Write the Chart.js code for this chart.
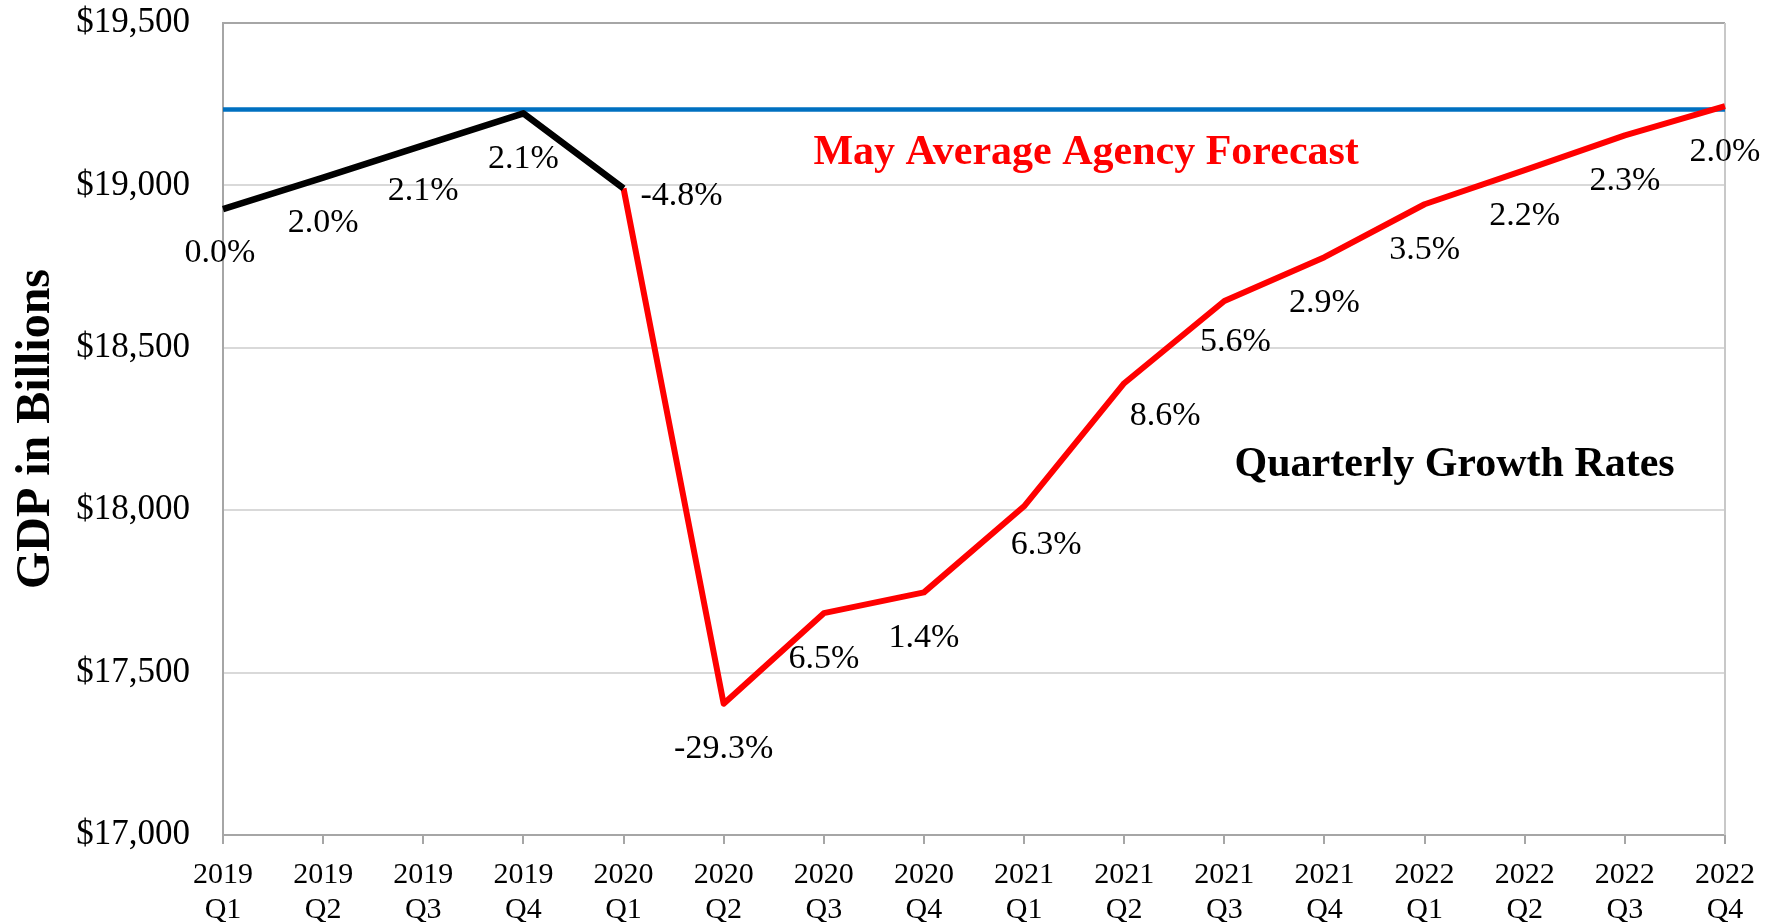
<!DOCTYPE html>
<html>
<head>
<meta charset="utf-8">
<title>GDP in Billions</title>
<script src="https://cdn.jsdelivr.net/npm/chart.js@4.4.1/dist/chart.umd.min.js"></script>
<style>
  html, body { margin: 0; padding: 0; background: #ffffff; }
  #wrap { width: 1777px; height: 922px; position: relative; }
</style>
</head>
<body>
<div id="wrap"><canvas id="gdpChart"></canvas></div>
<script>
// Data for the chart
const categories = [
  "2019 Q1", "2019 Q2", "2019 Q3", "2019 Q4",
  "2020 Q1", "2020 Q2", "2020 Q3", "2020 Q4",
  "2021 Q1", "2021 Q2", "2021 Q3", "2021 Q4",
  "2022 Q1", "2022 Q2", "2022 Q3", "2022 Q4",
];

// actual GDP (black)
const actualGdp = [18927, 19024, 19123, 19222, 18991, null, null, null, null, null, null, null, null, null, null, null];

// May average agency forecast (red)
const forecastGdp = [null, null, null, null, 18991, 17404, 17683, 17747, 18012, 18391, 18644, 18779, 18942, 19047, 19154, 19244];

// pre-covid level (blue flat line)
const preCovidLevel = [19234, 19234, 19234, 19234, 19234, 19234, 19234, 19234, 19234, 19234, 19234, 19234, 19234, 19234, 19234, 19234];

const growthRates = ["0.0%", "2.0%", "2.1%", "2.1%", "-4.8%", "-29.3%", "6.5%", "1.4%", "6.3%", "8.6%", "5.6%", "2.9%", "3.5%", "2.2%", "2.3%", "2.0%"];

const yTicks = [17000, 17500, 18000, 18500, 19000, 19500];

// label placement (pixels from the point), most labels sit under the point
const labelOffsets = {
  0: [-3, 41],
  4: [58, 5],
  8: [22, 36],
  9: [41, 30],
  10: [11, 38],
};

const serif = "'Liberation Serif', 'Times New Roman', serif";
const axisGray = "#a6a6a6";

// Frame round the plot area (top and right side)
const plotFrame = {
  id: "plotFrame",
  beforeDatasetsDraw(chart) {
    const { ctx, chartArea } = chart;
    ctx.save();
    ctx.strokeStyle = axisGray;
    ctx.lineWidth = 2;
    ctx.beginPath();
    ctx.moveTo(chartArea.left, chartArea.top);
    ctx.lineTo(chartArea.right, chartArea.top);
    ctx.stroke();
    ctx.strokeStyle = "#c8c8c8";
    ctx.beginPath();
    ctx.moveTo(chartArea.right, chartArea.top);
    ctx.lineTo(chartArea.right, chartArea.bottom);
    ctx.stroke();
    ctx.restore();
  },
};

// Growth rate labels and the two text notes
const growthLabels = {
  id: "growthLabels",
  afterDatasetsDraw(chart) {
    const { ctx } = chart;
    const xScale = chart.scales.x;
    const yScale = chart.scales.y;
    const actualMeta = chart.getDatasetMeta(1);
    const forecastMeta = chart.getDatasetMeta(2);

    ctx.save();
    ctx.fillStyle = "#000000";
    ctx.font = "34px " + serif;
    ctx.textAlign = "center";
    ctx.textBaseline = "alphabetic";
    growthRates.forEach((txt, i) => {
      const meta = i < 4 ? actualMeta : forecastMeta;
      const pt = meta.data[i];
      const off = labelOffsets[i] || [0, 43];
      ctx.fillText(txt, pt.x + off[0], pt.y + off[1] + 11.5);
    });

    ctx.font = "bold 42px " + serif;
    ctx.fillStyle = "#ff0000";
    ctx.textBaseline = "middle";
    ctx.fillText("May Average Agency Forecast", xScale.getPixelForValue(8.62), yScale.getPixelForValue(19099));

    ctx.fillStyle = "#000000";
    ctx.fillText("Quarterly Growth Rates", xScale.getPixelForValue(12.3), yScale.getPixelForValue(18139));
    ctx.restore();
  },
};

function buatChart() {
  const ctx = document.getElementById("gdpChart").getContext("2d");
  new Chart(ctx, {
    type: "line",
    data: {
      labels: categories,
      datasets: [
        {
          label: "Pre-COVID level",
          data: preCovidLevel,
          borderColor: "#0070c0",
          borderWidth: 4.5,
          pointRadius: 0,
          order: 3,
        },
        {
          label: "Actual",
          data: actualGdp,
          borderColor: "#000000",
          borderWidth: 6.5,
          borderJoinStyle: "round",
          pointRadius: 0,
          spanGaps: false,
          order: 1,
        },
        {
          label: "May Average Agency Forecast",
          data: forecastGdp,
          borderColor: "#ff0000",
          borderWidth: 6,
          borderJoinStyle: "round",
          pointRadius: 0,
          spanGaps: false,
          order: 2,
        },
      ],
    },
    options: {
      responsive: true,
      maintainAspectRatio: false,
      animation: false,
      layout: {
        padding: { left: 0, top: 23, right: 52, bottom: 0 },
      },
      plugins: {
        legend: { display: false },
        tooltip: { enabled: false },
      },
      scales: {
        x: {
          offset: false,
          grid: {
            drawOnChartArea: false,
            drawTicks: true,
            tickLength: 9,
            color: axisGray,
            lineWidth: 2,
          },
          border: { color: axisGray, width: 2 },
          ticks: {
            color: "#000000",
            padding: 14,
            maxRotation: 0,
            autoSkip: false,
            font: { family: serif, size: 30, lineHeight: 1.15 },
            callback: function (value) {
              return categories[value].split(" ");
            },
          },
          afterFit: function (scale) {
            scale.height = 87;
          },
        },
        y: {
          min: yTicks[0],
          max: yTicks[yTicks.length - 1],
          afterBuildTicks: function (scale) {
            scale.ticks = yTicks.map((v) => ({ value: v }));
          },
          grid: {
            drawTicks: false,
            color: "#d9d9d9",
            lineWidth: 2,
          },
          border: { color: axisGray, width: 2 },
          ticks: {
            color: "#000000",
            padding: 33,
            font: { family: serif, size: 35 },
            callback: function (value) {
              return "$" + value.toLocaleString("en-US");
            },
          },
          title: {
            display: true,
            text: "GDP in Billions",
            color: "#000000",
            font: { family: serif, size: 48, weight: "bold" },
            padding: { top: 8, bottom: 0 },
          },
          afterFit: function (scale) {
            scale.width = 223;
            // the tick padding should not push the plot down
            scale.paddingTop = 0;
            scale.paddingBottom = 0;
          },
        },
      },
    },
    plugins: [plotFrame, growthLabels],
  });
}

document.addEventListener("DOMContentLoaded", function () {
  buatChart();
});
</script>
</body>
</html>
